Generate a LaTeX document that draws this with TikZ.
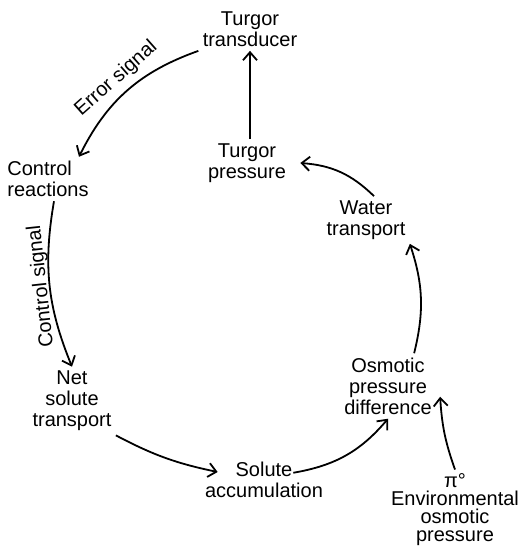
\documentclass[tikz,border=0pt]{standalone}
\usepackage{fontspec}
\setmainfont{Liberation Sans}
\usetikzlibrary{arrows.meta}

\begin{document}
\begin{tikzpicture}[x=0.5pt,y=-0.5pt,
		box/.style={align=center,inner sep=2pt,font=\fontsize{10}{10.5}\selectfont},
		arr/.style={-{Straight Barb[length=4pt,width=7pt]},line width=0.9pt},
		sig/.style={sloped,above=2pt,inner sep=1pt,font=\fontsize{10}{10}\selectfont}]
		
		\useasboundingbox (0,0) rectangle (519,552);
		
		%nodes
		\node[box] (tt) at (250,29) {Turgor\\transducer};
		\node[box] (tp) at (247,163) {Turgor\\pressure};
		\node[box] (wt) at (366,220) {Water\\transport};
		\node[box] (od) at (388,386) {Osmotic\\pressure\\difference};
		\node[box] (sa) at (264,480) {Solute\\accumulation};
		\node[box] (ns) at (72,401) {Net\\solute\\transport};
		\node[box,align=left] (cr) at (48,179) {Control\\reactions};
		\node[box,font=\fontsize{10}{9}\selectfont] (ev) at (455,510) {π°\\Environmental\\osmotic\\pressure};
		
		%loop
		\draw[arr] (tp.north -| tt) -- (tt.south);
		\draw[arr] (tt.south west) to[bend right=22] node[sig] {Error signal} ([xshift=-7pt]cr.north east);
		\draw[arr] ([xshift=3pt]cr.south) to[bend right=16] node[sig,rotate=180] {Control signal} (ns.north);
		\draw[arr] (ns.south east) to[bend right=8] ([xshift=8.5pt,yshift=4pt]sa.west);
		\draw[arr] ([xshift=-17pt,yshift=-7.5pt]sa.north east) to[bend right=20] (od.south);
		\draw[arr] ([xshift=-11pt]od.north east) to[bend right=16] (wt.south east);
		\draw[arr] ([xshift=4pt]wt.north) to[bend right=20] ([xshift=5pt]tp.east);
		
		%outside
		\draw[arr] (ev.north) to[bend left=8] ([xshift=2pt,yshift=11pt]od.south east);
		
	\end{tikzpicture}
\end{document}
